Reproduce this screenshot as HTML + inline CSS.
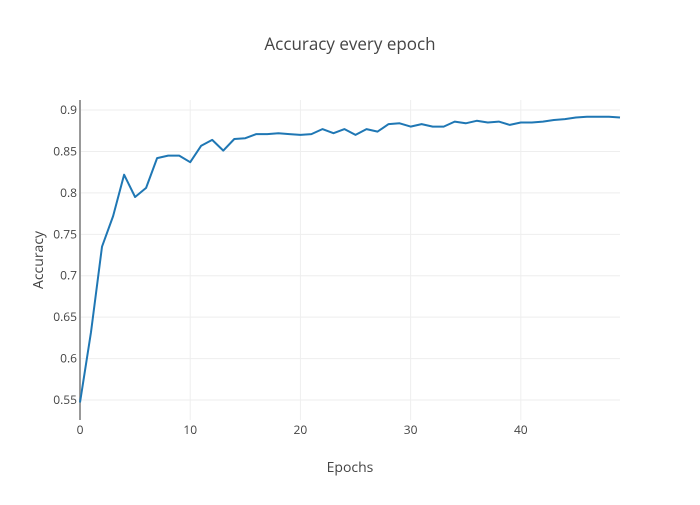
<!DOCTYPE html>
<html><head><meta charset="utf-8"><style>
body{margin:0;background:#fff;}
svg{font-family:"Open Sans","Liberation Sans",sans-serif;}
</style></head><body>
<svg id="chart" width="700" height="500" xmlns="http://www.w3.org/2000/svg">
<text x="350" y="50" text-anchor="middle" font-size="17" fill="#444">Accuracy every epoch</text>
<g id="grid"></g>
<g id="ticks"></g>
<line x1="80" y1="100" x2="80" y2="420" stroke="#999" stroke-width="2"/>
<path id="line" fill="none" stroke="#1f77b4" stroke-width="2" stroke-linejoin="round"/>
<text x="350" y="472" text-anchor="middle" font-size="14" fill="#444">Epochs</text>
<text transform="translate(43,260) rotate(-90)" text-anchor="middle" font-size="14" fill="#444">Accuracy</text>
</svg>
<script>
const epochs = [];
for (let i = 0; i < 50; i++) epochs.push(i);
const accuracy = [0.547,0.632,0.735,0.772,0.822,0.795,0.806,0.842,0.845,0.845,0.837,0.857,0.864,0.851,0.865,0.866,0.871,0.871,0.872,0.871,0.870,0.871,0.877,0.872,0.877,0.870,0.877,0.874,0.883,0.884,0.880,0.883,0.880,0.880,0.886,0.884,0.887,0.885,0.886,0.882,0.885,0.885,0.886,0.888,0.889,0.891,0.892,0.892,0.892,0.891];
const xTicks = [0,10,20,30,40];
const yTicks = [0.55,0.6,0.65,0.7,0.75,0.8,0.85,0.9];
const yTickLabels = ["0.55","0.6","0.65","0.7","0.75","0.8","0.85","0.9"];
const X0=80,X1=620,Y0=420,Y1=100,xmin=0,xmax=49,ymin=0.5259,ymax=0.9121;
const sx=v=>X0+(v-xmin)/(xmax-xmin)*(X1-X0);
const sy=v=>Y0-(v-ymin)/(ymax-ymin)*(Y0-Y1);
const NS="http://www.w3.org/2000/svg";
const grid=document.getElementById('grid'),ticks=document.getElementById('ticks');
function mk(tag,attrs,parent){const e=document.createElementNS(NS,tag);for(const k in attrs)e.setAttribute(k,attrs[k]);parent.appendChild(e);return e;}
yTicks.forEach((v,i)=>{
  const l=mk('line',{x1:X0,x2:X1,y1:sy(v),y2:sy(v),stroke:'#eee','stroke-width':1},grid);
  
  
  const t=mk('text',{x:X0-3,y:sy(v)+4,'text-anchor':'end','font-size':12,fill:'#444'},ticks);
  t.textContent=yTickLabels[i];
  
  
});
xTicks.forEach(v=>{
  if(v>0){const l=mk('line',{x1:sx(v),x2:sx(v),y1:Y1,y2:Y0,stroke:'#eee','stroke-width':1},grid);
  
  }
  const t=mk('text',{x:sx(v),y:Y0+14,'text-anchor':'middle','font-size':12,fill:'#444'},ticks);
  t.textContent=String(v);
  
  
});
document.getElementById('line').setAttribute('d',accuracy.map((v,i)=>(i?'L':'M')+sx(epochs[i]).toFixed(1)+','+sy(v).toFixed(1)).join(''));
</script>
</body></html>
